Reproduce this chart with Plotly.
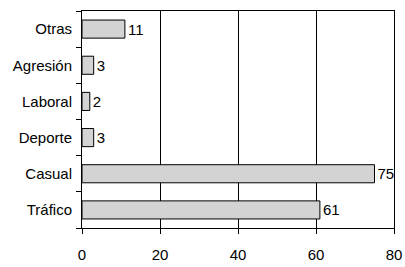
import plotly.graph_objects as go

categories = ["Tráfico", "Casual", "Deporte", "Laboral", "Agresión", "Otras"]
values = [61, 75, 3, 2, 3, 11]
x_ticks = [0, 20, 40, 60, 80]

fig = go.Figure(go.Bar(
    y=categories, x=values, orientation="h",
    marker=dict(color="#d3d3d3", line=dict(color="black", width=1)),
    text=[str(v) for v in values], textposition="outside",
    textfont=dict(family="Liberation Sans, Arial", size=15, color="black"),
    cliponaxis=False, width=0.5,
))

fig.update_layout(
    width=405, height=267,
    margin=dict(l=82, r=11, t=11, b=39, autoexpand=False),
    paper_bgcolor="white", plot_bgcolor="white",
    showlegend=False,
    font=dict(family="Liberation Sans, Arial", size=15, color="black"),
)
fig.update_xaxes(
    range=[0, 80], tickvals=x_ticks, showgrid=True, gridcolor="black", gridwidth=1,
    zeroline=False, showline=True, linecolor="black", linewidth=1, mirror=True,
    ticks="outside", ticklen=5, tickcolor="black", ticklabelstandoff=8,
    automargin=False,
)
fig.update_yaxes(
    categoryorder="array", categoryarray=categories, showgrid=False,
    showline=True, linecolor="black", linewidth=1, mirror=True,
    ticks="outside", ticklen=5, tickcolor="black", tickson="boundaries",
    ticklabelstandoff=6, automargin=False,
)
fig.write_html(
    "out.html",
    config={"displayModeBar": False},
    post_script="document.body.style.margin='0';document.body.style.overflow='hidden';",
)
